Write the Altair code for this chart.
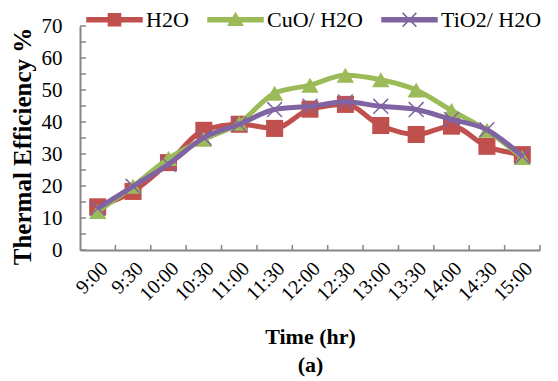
import altair as alt
import pandas as pd

times = ["9:00", "9:30", "10:00", "10:30", "11:00", "11:30", "12:00",
         "12:30", "13:00", "13:30", "14:00", "14:30", "15:00"]
h2o = [13.5, 18.3, 27.3, 37.4, 39.3, 38.0, 44.0, 45.5, 38.9, 36.1, 38.7, 32.4, 29.8]
cuo = [12.0, 19.9, 28.6, 34.6, 39.6, 49.0, 51.5, 54.6, 53.2, 50.0, 43.6, 37.4, 28.9]
tio2 = [13.0, 19.9, 26.8, 35.1, 39.3, 43.9, 44.9, 46.3, 44.9, 43.9, 40.8, 37.6, 29.3]
series = ["H2O", "CuO/ H2O", "TiO2/ H2O"]
colors = ["#C0504D", "#9BBB59", "#8064A2"]
y_ticks = [0, 5, 10, 15, 20, 25, 30, 35, 40, 45, 50, 55, 60, 65, 70]
y_labels = [0, 10, 20, 30, 40, 50, 60, 70]

FONT = "Liberation Serif"
AXIS_GREY = "#868686"

rows = []
for name, vals in zip(series, [h2o, cuo, tio2]):
    for t, v in zip(times, vals):
        rows.append({"time": t, "value": v, "series": name})
df = pd.DataFrame(rows)

xscale = alt.Scale(type="band", paddingInner=0, paddingOuter=0)
xaxis = alt.Axis(title=["Time (hr)", "(a)"], labelAngle=-45,
                 labelAlign="right", labelBaseline="top",
                 labelPadding=8, labelFontSize=20, labelFont=FONT,
                 labelColor="black", ticks=False, grid=False,
                 labelOverlap=False,
                 domainColor=AXIS_GREY, domainWidth=2,
                 titleFont=FONT, titleFontSize=22, titleFontWeight="bold",
                 titleColor="black", titleLineHeight=28,
                 titleBaseline="top", titleY=76)
yscale = alt.Scale(domain=[0, 70], nice=False, zero=True)
yaxis = alt.Axis(title="Thermal Efficiency %", values=y_labels, tickCount=8,
                 labelOverlap=False,
                 labelFontSize=21, labelFont=FONT, labelColor="black",
                 labelPadding=18, ticks=False, grid=False,
                 domainColor=AXIS_GREY, domainWidth=2,
                 titleFont=FONT, titleFontSize=25, titleFontWeight="bold",
                 titleColor="black", titleX=-58, titleY=120,
                 titleBaseline="middle", titleAlign="center")

xenc = alt.X("time:N", sort=times, scale=xscale, axis=xaxis)
yenc = alt.Y("value:Q", scale=yscale, axis=yaxis)

base = alt.Chart(df)

shape_specs = [
    ("square", True, 1, 290),
    ("triangle-up", True, 1, 300),
    ("M-1,-1L1,1M-1,1L1,-1", False, 1.5, 220),
]

layers = []
for name, col, (shp, filled, sw, size) in zip(series, colors, shape_specs):
    sub = base.transform_filter(alt.datum.series == name)
    line = sub.mark_line(color=col, strokeWidth=5, interpolate="monotone").encode(
        x=xenc, y=yenc)
    pts = sub.mark_point(shape=shp, filled=filled, color=col, size=size,
                         strokeWidth=sw, opacity=1).encode(x=xenc, y=yenc)
    layers += [line, pts]

# inside tick marks
ytick_df = pd.DataFrame({"value": y_ticks})
ytk = alt.Chart(ytick_df).mark_rule(color=AXIS_GREY, strokeWidth=1.5).encode(
    y=alt.Y("value:Q", scale=yscale, axis=yaxis), x=alt.value(0), x2=alt.value(6))
xtick_df = pd.DataFrame({"time": times})
xtk = alt.Chart(xtick_df).mark_rule(color=AXIS_GREY, strokeWidth=1.5).encode(
    x=alt.X("time:N", sort=times, scale=xscale, axis=xaxis, bandPosition=1),
    y=alt.value(224), y2=alt.value(219))

# legend (from an empty layer with fixed domain)
legend_paths = [
    "M-1,-0.075H1V0.075H-1Z M-0.22,-0.22H0.22V0.22H-0.22Z",
    "M-1,-0.075H1V0.075H-1Z M0,-0.24L0.26,0.2L-0.26,0.2Z",
    "M-1,-0.075H1V0.075H-1Z M-0.25,-0.25L0.25,0.25M-0.25,0.25L0.25,-0.25",
]
leg = alt.Legend(title=None, symbolSize=3025, symbolStrokeWidth=1.5,
                 labelFont=FONT, labelFontSize=22, labelColor="black",
                 labelOffset=3, columnPadding=16, labelLimit=300)
legend_layer = base.transform_filter("false").mark_point(filled=True, opacity=1).encode(
    shape=alt.Shape("series:N", scale=alt.Scale(domain=series, range=legend_paths), legend=leg),
    fill=alt.Fill("series:N", scale=alt.Scale(domain=series, range=colors), legend=leg),
    stroke=alt.Stroke("series:N", scale=alt.Scale(domain=series, range=colors), legend=leg),
)

chart = alt.layer(ytk, xtk, *layers, legend_layer).properties(
    width=460, height=224,
    autosize=alt.AutoSizeParams(type="none"),
    padding={"left": 72, "top": 18, "right": 10, "bottom": 128},
    background="white",
).configure_view(stroke=None).configure_legend(
    orient="none", direction="horizontal", legendX=6, legendY=-35
)

chart.save("out.html", embed_options={"renderer": "svg", "actions": False})
